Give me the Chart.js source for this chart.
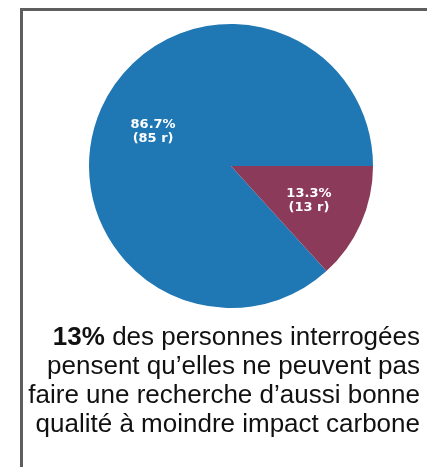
<!DOCTYPE html>
<html>
<head>
<meta charset="utf-8">
<script src="https://cdn.jsdelivr.net/npm/chart.js@4"></script>
<style>
  html, body { margin: 0; padding: 0; background: #ffffff; }
  #wrap { position: relative; width: 427px; height: 467px; overflow: hidden; }
  #frame {
    position: absolute; left: 20px; top: 8px; width: 420px; height: 470px;
    border-left: 3px solid #5e5e5e; border-top: 3px solid #5e5e5e;
  }
  #chart { position: absolute; left: 0; top: 0; }
  #caption {
    position: absolute; right: 7px; top: 322px;
    font-family: "Liberation Sans", Arial, sans-serif;
    font-size: 26px; line-height: 29px; color: #111111;
    text-align: right; white-space: nowrap;
  }
</style>
</head>
<body>
<div id="wrap">
  <div id="frame"></div>
  <canvas id="chart" width="427" height="467"></canvas>
  <div id="caption">
    <b>13%</b> des personnes interrogées<br>
    pensent qu’elles ne peuvent pas<br>
    faire une recherche d’aussi bonne<br>
    qualité à moindre impact carbone
  </div>
</div>
<script>
  // answers: can do equally good research with lower carbon footprint vs cannot
  const categories = ['Oui', 'Non'];
  const counts = [85, 13];
  const sliceColors = ['#1f77b4', '#8b3a5a'];

  const total = counts.reduce((a, b) => a + b, 0);
  // matplotlib-style: first slice starts at 3 o'clock, counter-clockwise
  const startRotation = 90 + 360 * counts[1] / total;

  const sliceLabels = {
    id: 'sliceLabels',
    afterDatasetsDraw(chart) {
      const ctx = chart.ctx;
      const meta = chart.getDatasetMeta(0);
      ctx.save();
      ctx.fillStyle = '#ffffff';
      ctx.font = 'bold 13px "DejaVu Sans", sans-serif';
      ctx.textAlign = 'center';
      ctx.textBaseline = 'middle';
      meta.data.forEach((arc, i) => {
        const p = arc.getProps(['x', 'y', 'startAngle', 'endAngle', 'outerRadius'], true);
        const mid = (p.startAngle + p.endAngle) / 2;
        const r = p.outerRadius * 0.6;
        const x = p.x + Math.cos(mid) * r;
        const y = p.y + Math.sin(mid) * r;
        const pct = (counts[i] / total * 100).toFixed(1) + '%';
        ctx.fillText(pct, x, y - 7);
        ctx.fillText('(' + counts[i] + ' r)', x, y + 7);
      });
      ctx.restore();
    }
  };

  new Chart(document.getElementById('chart'), {
    type: 'pie',
    data: {
      labels: categories,
      datasets: [{
        data: counts,
        backgroundColor: sliceColors,
        borderWidth: 0
      }]
    },
    options: {
      responsive: false,
      animation: false,
      rotation: startRotation,
      events: [],
      layout: { padding: { left: 89, right: 54, top: 24, bottom: 159 } },
      plugins: {
        legend: { display: false },
        tooltip: { enabled: false }
      }
    },
    plugins: [sliceLabels]
  });
</script>
</body>
</html>
